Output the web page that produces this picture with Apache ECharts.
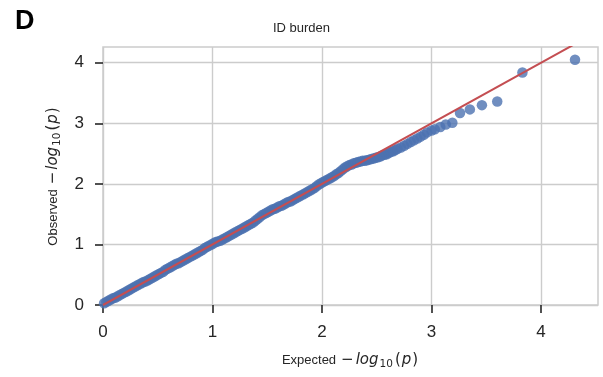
<!DOCTYPE html>
<html>
<head>
<meta charset="utf-8">
<script src="https://cdn.jsdelivr.net/npm/echarts@6/dist/echarts.min.js"></script>
<style>
html,body{margin:0;padding:0;background:#fff;}
#chart{width:603px;height:377px;}
</style>
</head>
<body>
<div id="chart"></div>
<script>
// Expected -log10(p) values (x)
const expected = [
  0.01,0.03,0.05,0.07,0.09,0.11,0.13,0.15,0.17,0.19,0.21,0.23,0.25,0.27,0.29,0.31,0.33,0.35,0.37,0.39,
  0.41,0.43,0.45,0.47,0.49,0.51,0.53,0.55,0.57,0.59,0.61,0.63,0.65,0.67,0.69,0.71,0.73,0.75,0.77,0.79,
  0.81,0.83,0.85,0.87,0.89,0.91,0.93,0.95,0.97,0.99,1.01,1.03,1.05,1.07,1.09,1.11,1.13,1.15,1.17,1.19,
  1.21,1.23,1.25,1.27,1.29,1.31,1.33,1.35,1.37,1.39,1.41,1.43,1.45,1.47,1.49,1.51,1.53,1.55,1.57,1.59,
  1.61,1.63,1.65,1.67,1.69,1.71,1.73,1.75,1.77,1.79,1.81,1.83,1.85,1.87,1.89,1.91,1.93,1.95,1.97,1.99,
  2.01,2.03,2.05,2.07,2.09,2.11,2.13,2.15,2.17,2.19,2.21,2.23,2.25,2.27,2.29,2.31,2.33,2.35,2.37,2.39,
  2.41,2.43,2.45,2.47,2.49,2.51,2.53,2.55,2.57,2.59,2.61,2.63,2.65,2.67,2.69,2.72,2.75,2.78,2.81,2.84,
  2.87,2.90,2.93,2.96,3.00,3.03,3.08,3.13,3.19,3.26,3.35,3.46,3.60,3.83,4.31];
// Observed -log10(p) values (y)
const observed = [
  0.03,0.05,0.07,0.09,0.11,0.12,0.14,0.16,0.18,0.20,0.22,0.24,0.26,0.28,0.30,0.32,0.34,0.36,0.38,0.39,
  0.41,0.43,0.45,0.47,0.49,0.51,0.53,0.55,0.58,0.60,0.62,0.64,0.66,0.68,0.69,0.71,0.73,0.75,0.77,0.79,
  0.81,0.83,0.85,0.87,0.89,0.91,0.94,0.96,0.98,1.00,1.02,1.04,1.05,1.06,1.08,1.10,1.12,1.14,1.16,1.18,
  1.20,1.22,1.24,1.26,1.28,1.30,1.32,1.34,1.36,1.39,1.42,1.45,1.48,1.50,1.52,1.54,1.56,1.58,1.59,1.61,
  1.63,1.64,1.66,1.68,1.70,1.71,1.73,1.75,1.77,1.79,1.81,1.83,1.85,1.87,1.89,1.91,1.93,1.96,1.99,2.01,
  2.03,2.05,2.07,2.09,2.11,2.13,2.16,2.18,2.21,2.24,2.27,2.29,2.31,2.32,2.34,2.35,2.36,2.37,2.38,2.38,
  2.39,2.40,2.41,2.42,2.43,2.44,2.45,2.47,2.48,2.49,2.51,2.53,2.54,2.56,2.58,2.60,2.63,2.66,2.69,2.72,
  2.75,2.78,2.81,2.85,2.88,2.90,2.94,2.98,3.01,3.17,3.23,3.30,3.36,3.84,4.05];
// Reference line y = x
const refLine = [0, 4.6];
const xTicks = [0, 1, 2, 3, 4];
const yTicks = [0, 1, 2, 3, 4];

const FONT = 'Liberation Sans, Arial, sans-serif';
const MATH = 'DejaVu Sans, sans-serif';
const points = expected.map((x, i) => [x, observed[i]]);
const linePts = refLine.map(v => [v, v]);

const chart = echarts.init(document.getElementById('chart'), null, {renderer: 'canvas'});
const axisCommon = {
  type: 'value', min: 0, interval: 1,
  axisLine: {show: false},
  axisTick: {show: true, length: 8, inside: false, lineStyle: {color: '#262626', width: 1.6}},
  axisLabel: {color: '#262626', fontSize: 17, fontFamily: FONT, margin: 19},
  splitLine: {show: true, lineStyle: {color: '#cccccc', width: 1.4}},
  nameLocation: 'middle',
  nameTextStyle: {
    color: '#262626', fontSize: 13, fontFamily: FONT,
    rich: {
      i: {fontStyle: 'italic', fontSize: 15, fontFamily: MATH, color: '#262626', padding: [0, 1, 0, 0]},
      sub: {fontSize: 10.5, fontFamily: MATH, color: '#262626', padding: [8, 2, 0, 0]},
      m: {fontSize: 15, fontFamily: MATH, color: '#262626', padding: [0, 2, 0, 0]},
      n: {fontSize: 15, fontFamily: MATH, color: '#262626', padding: [0, 1, 0, 0]},
      s: {fontSize: 13, fontFamily: FONT, color: '#262626', padding: [0, 5, 0, 0]}
    }
  }
};

chart.setOption({
  animation: false,
  backgroundColor: '#ffffff',
  title: [
    {text: 'D', left: 10, top: 3, textStyle: {fontSize: 27, fontWeight: 'bold', color: '#000', fontFamily: FONT}},
    {text: 'ID burden', left: 'center', top: 17, textStyle: {fontSize: 13, fontWeight: 'normal', color: '#262626', fontFamily: FONT}}
  ],
  grid: {left: 103, right: 5, top: 47, bottom: 72, show: true, borderColor: '#cccccc', borderWidth: 1.5, containLabel: false},
  xAxis: Object.assign({}, axisCommon, {
    max: 4.52,
    name: '{s|Expected}{m|−}{i|log}{sub|10}{n|(}{i|p}{n|)}',
    nameGap: 46,
    axisTick: Object.assign({}, axisCommon.axisTick, {customValues: xTicks}),
    axisLabel: Object.assign({}, axisCommon.axisLabel, {customValues: xTicks})
  }),
  yAxis: Object.assign({}, axisCommon, {
    max: 4.26,
    name: '{s|Observed}{m|−}{i|log}{sub|10}{n|(}{i|p}{n|)}',
    nameGap: 40,
    axisTick: Object.assign({}, axisCommon.axisTick, {customValues: yTicks}),
    axisLabel: Object.assign({}, axisCommon.axisLabel, {customValues: yTicks})
  }),
  series: [
    {
      type: 'scatter', data: points, symbolSize: 10.5, z: 2,
      itemStyle: {color: '#4c72b0', opacity: 0.8},
      emphasis: {disabled: true}
    },
    {
      type: 'line', data: linePts, symbol: 'none', z: 3, clip: true,
      lineStyle: {color: '#c44e52', width: 2},
      emphasis: {disabled: true}
    }
  ]
});
</script>
</body>
</html>
